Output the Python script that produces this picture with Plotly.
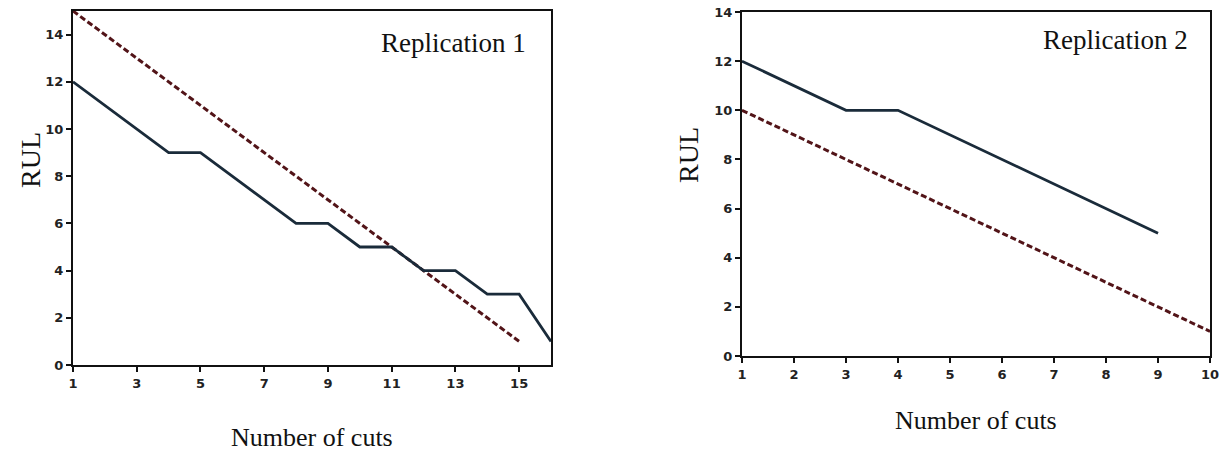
import plotly.graph_objects as go

# Replication 1
cuts1 = [1, 2, 3, 4, 5, 6, 7, 8, 9, 10, 11, 12, 13, 14, 15, 16]
rul1_est = [12, 11, 10, 9, 9, 8, 7, 6, 6, 5, 5, 4, 4, 3, 3, 1]
cuts1_true = [1, 15]
rul1_true = [15, 1]

# Replication 2
cuts2 = [1, 2, 3, 4, 5, 6, 7, 8, 9]
rul2_est = [12, 11, 10, 10, 9, 8, 7, 6, 5]
cuts2_true = [1, 10]
rul2_true = [10, 1]

x1_ticks = [1, 3, 5, 7, 9, 11, 13, 15]
x2_ticks = [1, 2, 3, 4, 5, 6, 7, 8, 9, 10]
y1_ticks = [0, 2, 4, 6, 8, 10, 12, 14]
y2_ticks = [0, 2, 4, 6, 8, 10, 12, 14]

SOLID = "#1a2b3a"
DASH = "#521418"

fig = go.Figure()
fig.add_trace(go.Scatter(x=cuts1_true, y=rul1_true, mode="lines",
                         line=dict(color=DASH, width=3, dash="6px,3px"),
                         xaxis="x", yaxis="y", showlegend=False))
fig.add_trace(go.Scatter(x=cuts1, y=rul1_est, mode="lines",
                         line=dict(color=SOLID, width=2.8),
                         xaxis="x", yaxis="y", showlegend=False))
fig.add_trace(go.Scatter(x=cuts2_true, y=rul2_true, mode="lines",
                         line=dict(color=DASH, width=3, dash="6px,3px"),
                         xaxis="x2", yaxis="y2", showlegend=False))
fig.add_trace(go.Scatter(x=cuts2, y=rul2_est, mode="lines",
                         line=dict(color=SOLID, width=2.8),
                         xaxis="x2", yaxis="y2", showlegend=False))

tickfont = dict(family="DejaVu Sans", size=13, color="#222", weight="bold")
ax_common = dict(showgrid=False, zeroline=False, showline=True, linecolor="#111",
                 linewidth=2, mirror=True, ticks="outside", ticklen=5,
                 tickcolor="#111", tickwidth=1.5, tickfont=tickfont, automargin=False)

fig.update_layout(
    width=1225, height=451,
    margin=dict(l=0, r=0, t=0, b=0),
    paper_bgcolor="white", plot_bgcolor="white",
    xaxis=dict(domain=[0.0596, 0.4498], range=[1, 16], tickvals=x1_ticks,
               anchor="y", **ax_common),
    yaxis=dict(domain=[0.1907, 0.9756], range=[0, 15], tickvals=y1_ticks,
               anchor="x", **ax_common),
    xaxis2=dict(domain=[0.6057, 0.9878], range=[1, 10], tickvals=x2_ticks,
                anchor="y2", **ax_common),
    yaxis2=dict(domain=[0.2106, 0.9734], range=[0, 14], tickvals=y2_ticks,
                anchor="x2", **ax_common),
)

serif = "Liberation Serif"
for xc, yc in [(312, 437), (976, 420)]:
    fig.add_annotation(text="Number of cuts", x=xc / 1225, y=1 - yc / 451,
                       xref="paper", yref="paper", showarrow=False,
                       font=dict(family=serif, size=26, color="#111"),
                       xanchor="center", yanchor="middle")
for xc, yc in [(30, 160), (688, 155)]:
    fig.add_annotation(text="RUL", x=xc / 1225, y=1 - yc / 451, xref="paper", yref="paper",
                       showarrow=False, textangle=-90,
                       font=dict(family=serif, size=28, color="#111"),
                       xanchor="center", yanchor="middle")
fig.add_annotation(text="Replication 1", x=528 / 1225, y=1 - 43 / 451, xref="paper", yref="paper",
                   showarrow=False, font=dict(family=serif, size=27, color="#111"),
                   xanchor="right", yanchor="middle")
fig.add_annotation(text="Replication 2", x=1190 / 1225, y=1 - 40 / 451, xref="paper", yref="paper",
                   showarrow=False, font=dict(family=serif, size=27, color="#111"),
                   xanchor="right", yanchor="middle")

fig.write_html("out.html", config={"displayModeBar": False},
               post_script="document.body.style.margin='0';document.body.style.overflow='hidden';")
